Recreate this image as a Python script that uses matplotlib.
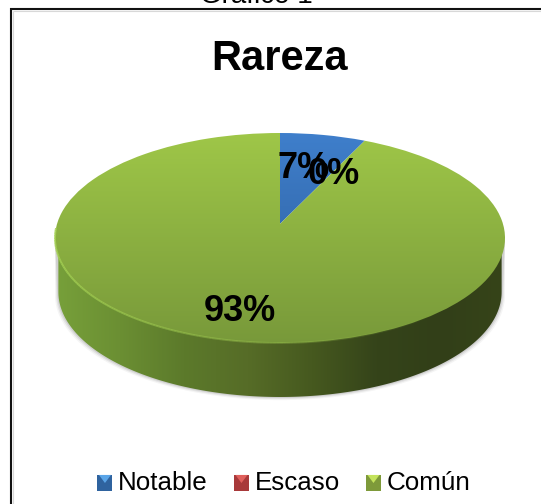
import numpy as np
import matplotlib
matplotlib.use("Agg")
import matplotlib.pyplot as plt
from matplotlib.collections import LineCollection
from matplotlib.legend_handler import HandlerBase
from matplotlib.lines import Line2D
from matplotlib.patches import Patch, Polygon, Rectangle
from matplotlib.transforms import Transform

categories = ["Notable", "Escaso", "Común"]
values = [7, 0, 93]
title = "Rareza"
caption = "Gráfico 1"

W, H = 541, 504
CX, CY, RX, RY = 280, 238, 225, 105
DEPTH = 54 / 105.0
TILT = 0.134

top_colors = [("#3f7fcc", "#2b5a96"), ("#c0504d", "#8c3836"), ("#9fc748", "#78993a")]
legend_colors = ["#2f639f", "#a8393a", "#7e9a3a"]
legend_lights = ["#5aa5e8", "#e0605c", "#c4e35c"]

plt.rcParams["font.family"] = ["Liberation Sans", "DejaVu Sans"]


class DiskTilt(Transform):
    # perspective of the unit disk: centre moves up, rim stays on the circle
    input_dims = 2
    output_dims = 2

    def transform_non_affine(self, xy):
        xy = np.asarray(xy, dtype=float)
        d = 1 + TILT * xy[:, 1]
        return np.column_stack([xy[:, 0] * np.sqrt(1 - TILT ** 2) / d,
                                (xy[:, 1] + TILT) / d])


class BevelHandler(HandlerBase):
    # legend key: dark square with a lighter triangle on its top edge
    def create_artists(self, legend, handle, xd, yd, width, height, fontsize, trans):
        s = Rectangle((xd, yd), width, height, fc=handle.get_facecolor(), ec="none", transform=trans)
        tri = Polygon([(xd + width * 0.1, yd + height), (xd + width * 0.9, yd + height),
                       (xd + width * 0.5, yd + height * 0.5)],
                      fc=handle.light, ec="none", transform=trans)
        return [s, tri]


def grad(ax, c1, c2, extent=(-1, 1, -1, 1)):
    a = np.array(matplotlib.colors.to_rgb(c1))
    b = np.array(matplotlib.colors.to_rgb(c2))
    t = np.linspace(0, 1, 256)[:, None]
    img = (a * (1 - t) + b * t)[:, None, :]
    return ax.imshow(img, extent=extent, aspect="auto", origin="upper", zorder=3)


fig = plt.figure(figsize=(W / 100, H / 100), dpi=100, facecolor="white")
ax = fig.add_axes([0, 0, 1, 1])
wedges, _ = ax.pie(values, startangle=90, counterclock=False, radius=1,
                   wedgeprops={"linewidth": 0})
tilt = DiskTilt()

# side wall and its soft shadow
t = np.linspace(np.pi, 2 * np.pi, 200)
for grow, alpha in [(0.03, 0.06), (0.02, 0.1), (0.01, 0.14)]:
    ax.add_patch(Polygon(np.column_stack([
        np.r_[np.cos(t) * (0.985 + grow / 2), [1, -1]],
        np.r_[np.sin(t) - DEPTH - grow, [0, 0]]]),
        fc="#555555", ec="none", alpha=alpha, zorder=1))
side = Polygon(np.column_stack([np.r_[np.cos(t) * 0.985, [0.985, -0.985]],
                                np.r_[np.sin(t) - DEPTH, [0, 0]]]),
               fc="none", ec="none", zorder=2)
ax.add_patch(side)
stops = ["#77a03a", "#6b8f33", "#5c7a2b", "#566c27", "#46591f", "#35441a", "#323f18", "#364419"]
seg = np.array([matplotlib.colors.to_rgb(c) for c in stops])
xs = np.linspace(0, 1, 256)
img = np.stack([np.interp(xs, np.linspace(0, 1, len(stops)), seg[:, i]) for i in range(3)], axis=1)[None, :, :]
im = ax.imshow(img, extent=(-1, 1, -2, 0.2), aspect="auto", zorder=2)
im.set_clip_path(side)

# top face
for w, (c1, c2), v in zip(wedges, top_colors, values):
    w.set_transform(tilt + ax.transData)
    w.set_facecolor("none")
    if v > 0:
        g = grad(ax, c1, c2, extent=(-1.01, 1.01, -1.01, 1.01))
        g.set_clip_path(w)

# light rim along the front edge, strong on the left and gone by the right
t2 = np.linspace(np.pi * 0.97, np.pi * 1.75, 160)
rim = np.column_stack([np.cos(t2), np.sin(t2)])
rim_segs = np.stack([rim[:-1], rim[1:]], axis=1)
rim_rgba = np.tile(matplotlib.colors.to_rgba("#a6d255"), (len(rim_segs), 1))
rim_rgba[:, 3] = np.linspace(0.9, 0.0, len(rim_segs))
ax.add_collection(LineCollection(rim_segs, colors=rim_rgba, linewidths=1.4, zorder=4), autolim=False)

ax.set_aspect("auto")
ax.set_xlim((0 - CX) / RX, (W - CX) / RX)
ax.set_ylim((CY - H) / RY, CY / RY)
ax.set_frame_on(False)
ax.set_xticks([])
ax.set_yticks([])

# outer frame, the bottom and right run off the picture
frame = dict(color="#111111", lw=1.5, transform=fig.transFigure, solid_capstyle="butt")
fig.add_artist(Line2D([11 / W, 11 / W], [0, 1 - 8 / H], **frame))
fig.add_artist(Line2D([10 / W, 1], [1 - 8.8 / H, 1 - 8.8 / H], **frame))
soft = dict(color="#d8d8d8", lw=0.8, transform=fig.transFigure, solid_capstyle="butt")
fig.add_artist(Line2D([13 / W, 1], [1 - 10.5 / H, 1 - 10.5 / H], **soft))
fig.add_artist(Line2D([13 / W, 13 / W], [0, 1 - 10.5 / H], **soft))

fig.text(256 / W, 1 - 3 / H, caption, ha="center", va="baseline", fontsize=20, color="black")
fig.text(280 / W, 1 - 70.5 / H, title, ha="center", va="baseline", fontsize=30, fontweight="bold")

# data labels sit where the source chart left them, two of them overlapping
label_pos = [(304, 178), (334, 184), (240, 321)]
for (lx, ly), v in zip(label_pos, values):
    fig.text(lx / W, 1 - ly / H, f"{v}%", ha="center", va="baseline",
             fontsize=26, fontweight="bold", color="black", zorder=10)

handles = []
for c, light in zip(legend_colors, legend_lights):
    h = Patch(fc=c, ec="none")
    h.light = light
    handles.append(h)
fig.legend(handles, categories, loc="center", bbox_to_anchor=(284 / W, 1 - 483 / H),
           ncols=3, frameon=False, fontsize=18.7, handlelength=0.58, handleheight=0.58,
           handletextpad=0.22, columnspacing=1.0, handler_map={Patch: BevelHandler()})

fig.savefig("out.png", dpi=100)
